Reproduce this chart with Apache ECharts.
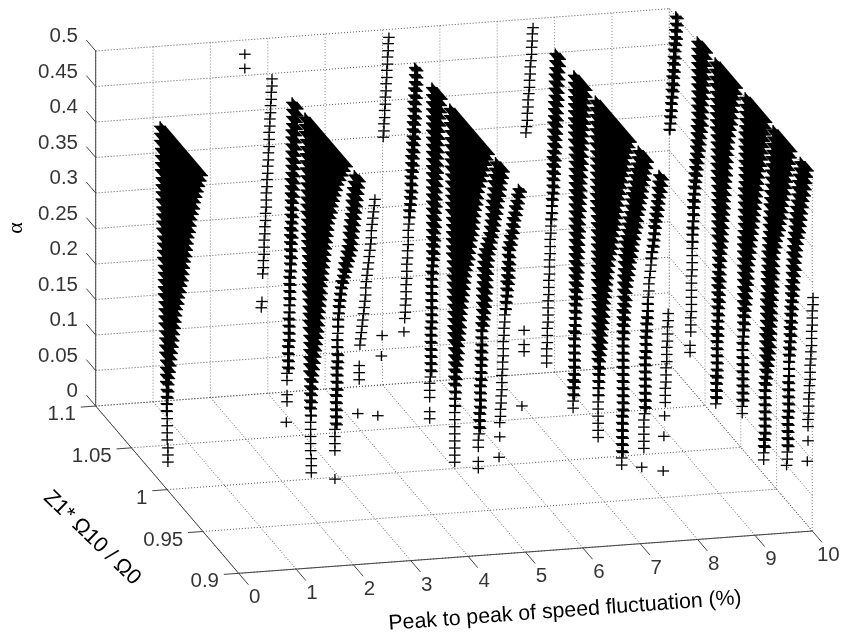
<!DOCTYPE html>
<html><head><meta charset="utf-8">
<style>html,body{margin:0;padding:0;background:#fff}#c{width:845px;height:637px}</style>
<script src="https://cdn.jsdelivr.net/npm/echarts@6/dist/echarts.min.js"></script>
</head><body><div id="c"></div>
<script>
// ---- tick values and labels ----
const xTicks = [0,1,2,3,4,5,6,7,8,9,10];
const xLabels = ['0','1','2','3','4','5','6','7','8','9','10'];
const zTicks = [0.9,0.95,1,1.05,1.1];
const zLabels = ['0.9','0.95','1','1.05','1.1'];
const aTicks = [0,0.05,0.1,0.15,0.2,0.25,0.3,0.35,0.4,0.45,0.5];
const aLabels = ['0','0.05','0.1','0.15','0.2','0.25','0.3','0.35','0.4','0.45','0.5'];
// alpha levels shared by the marker rows, from the top down
const alphaLevels = [0.50,0.49,0.48,0.47,0.46,0.45,0.44,0.43,0.42,0.41,0.40,0.39,0.38,0.37,0.36,0.35,0.34,0.33,0.32,0.31,0.30,0.29,0.28,0.27,0.26,0.25,0.24,0.23,0.22,0.21,0.20,0.19,0.18,0.17,0.16,0.15,0.14,0.13,0.12,0.11,0.10,0.09,0.08,0.07,0.06,0.05,0.04,0.03,0.02,0.01];

// ---- x = 0 ----
const a0L=[1.010,1.010,1.010,1.009,1.009,1.009,1.009,1.008,1.008,1.008,1.008,1.007,1.007,1.007,1.007,1.006,1.006,1.006,1.006,1.005,1.005,1.005,1.005,1.005,1.004,1.004,1.004,1.004,1.003,1.003,1.003,1.003,1.002,1.002,1.002,1.002,1.001,1.001,1.001,1.001,1.000,1.000,1.000,1.000,.999,.999,.999];
const a0R=[.951,.953,.955,.957,.959,.961,.962,.964,.966,.967,.968,.970,.971,.972,.973,.975,.976,.977,.978,.980,.981,.983,.984,.986,.987,.988,.989,.990,.991,.992,.993,.994,.995,.996,.997,.998,.998,.999,1.000,1.000,1.000,1.000,1.000,1.000];

// ---- x = 2.5 ----
const b0A=[.49,.47], b0Z=[1.092,1.092];
const b1Z=[1.054,1.054,1.055,1.055,1.056,1.056,1.057,1.057,1.058,1.058,1.058,1.059,1.059,1.060,1.060,1.061,1.061,1.062,1.062,1.062,1.063,1.063,1.064,1.064,1.065,1.065,1.065,1.066,1.066,1.067];
const b1lA=[.17,.16], b1lZ=[1.068,1.069];
const b2L=[1.026,1.026,1.026,1.026,1.027,1.027,1.027,1.027,1.027,1.027,1.027,1.028,1.028,1.028,1.028,1.028,1.028,1.028,1.029,1.029,1.029,1.029,1.029,1.029,1.029,1.030,1.030,1.030,1.030,1.030,1.030,1.031,1.031,1.031,1.031,1.032,1.032,1.032,1.032,1.033,1.033];
const b2R=[1.018,1.018,1.019,1.019,1.020,1.020,1.020,1.021,1.021,1.022,1.022,1.022,1.023,1.023,1.024,1.024,1.024,1.025,1.025,1.025,1.026,1.026,1.026,1.027,1.027,1.028,1.028,1.028,1.028,1.029,1.029,1.029,1.029,1.029,1.029,1.030,1.030,1.030,1.030];
const b2lA=[.08,.07,.04], b2lZ=[1.033,1.033,1.034];
const b3L=[1.008,1.008,1.008,1.007,1.007,1.007,1.007,1.007,1.006,1.006,1.006,1.006,1.006,1.006,1.005,1.005,1.005,1.005,1.005,1.004,1.004,1.004,1.004,1.004,1.004,1.003,1.003,1.003,1.003,1.003,1.002,1.002,1.002,1.002,1.002,1.002,1.001,1.001,1.001,1.001,1.001,1.000,1.000,1.000,1.000,1.000,1.000,.999,.999,.999];
const b3R=[.949,.952,.955,.958,.961,.963,.965,.967,.969,.970,.972,.974,.975,.976,.977,.978,.979,.980,.981,.982,.983,.984,.984,.985,.986,.987,.988,.988,.989,.990,.991,.992,.993,.994,.995,.996,.997,.997,.998,.998,.999,.999,1.000,1.000,1.000,1.000];
const b4L=[.939,.940,.941,.942,.943,.943,.944,.945,.946,.947,.947,.948,.950,.951,.953,.954,.955,.957,.958,.959,.960,.961,.961,.962,.962,.962,.963,.963,.963,.963,.964,.964,.964,.964,.965,.965,.965,.965,.965,.966,.966,.966,.966];
const b4R=[.931,.932,.933,.934,.935,.936,.937,.938,.939,.940,.941,.942,.944,.946,.948,.950,.952,.954,.956,.957,.958,.959,.960,.961,.961,.962,.962,.962,.961,.961,.962,.962,.962,.962,.963,.963,.963,.963,.963];
const b4lA=[.04], b4lZ=[.966];
const b5Z=[.910,.911,.912,.913,.914,.915,.915,.916,.917,.918,.919,.920,.921,.922,.923,.923,.924,.925,.926,.927,.928,.929,.930,.931];
const b5lA=[.24,.23,.22,.17], b5lZ=[.932,.932,.932,.934];
const b6A=[.32,.29,.20], b6Z=[.900,.901,.906];

// ---- x = 5 ----
const c0Z=[1.091,1.092,1.092,1.093,1.093,1.094,1.094,1.095,1.095,1.096,1.096,1.097,1.097,1.098,1.098,1.099];
const c1L=[1.055,1.055,1.055,1.056,1.056,1.057,1.057,1.057,1.058,1.058,1.058,1.059,1.059,1.060,1.060,1.060,1.061,1.061,1.061,1.062,1.062,1.063,1.063,1.063,1.064,1.064,1.064,1.065,1.065,1.066,1.066,1.066,1.067,1.067,1.067,1.068,1.068,1.069];
const c1R=[1.051,1.051,1.051,1.052,1.052,1.053,1.053,1.053,1.054,1.054,1.054,1.055,1.055,1.056,1.056,1.057,1.058,1.058,1.058,1.059,1.060,1.061,1.062,1.063,1.064];
const c1lA=[.11], c1lZ=[1.07];
const c2L=[1.031,1.031,1.031,1.031,1.031,1.031,1.031,1.031,1.031,1.031,1.031,1.031,1.031,1.031,1.031,1.031,1.031,1.031,1.031,1.031,1.031,1.031,1.031,1.031,1.031,1.031,1.032,1.032,1.032,1.032,1.032,1.032,1.032,1.032,1.033,1.033,1.033,1.033,1.033,1.033,1.033,1.033,1.034,1.034,1.034];
const c2R=[1.017,1.018,1.018,1.019,1.019,1.020,1.020,1.021,1.021,1.022,1.022,1.022,1.023,1.023,1.024,1.024,1.024,1.025,1.025,1.025,1.026,1.026,1.027,1.027,1.028,1.029,1.029,1.030,1.030,1.030,1.030,1.030,1.030,1.030,1.031,1.031,1.031,1.031,1.031,1.031,1.031];
const c2lA=[.04,.03], c2lZ=[1.034,1.034];
const c3L=[1.006,1.006,1.006,1.005,1.005,1.005,1.005,1.005,1.005,1.004,1.004,1.004,1.004,1.004,1.004,1.003,1.003,1.003,1.003,1.003,1.003,1.002,1.002,1.002,1.002,1.002,1.002,1.001,1.001,1.001,1.001,1.001,1.001,1.000,1.000,1.000,1.000,1.000,1.000,.999,.999,.999,.999,.999,.999,.999,.999,.999,.999,.999];
const c3R=[.951,.953,.955,.957,.959,.961,.963,.965,.966,.967,.969,.970,.971,.972,.973,.975,.976,.977,.978,.980,.982,.983,.984,.985,.986,.987,.988,.989,.990,.990,.991,.992,.993,.993,.994,.995,.996,.996,.997,.997,.998,.998,.999,.999];
const c4L=[.942,.943,.944,.945,.945,.946,.947,.948,.948,.949,.950,.951,.953,.955,.957,.959,.959,.960,.960,.960,.961,.961,.961,.961,.961,.962,.962,.962,.962,.963,.963,.963,.963,.963,.964,.964,.964,.964,.965,.965,.965,.965,.966,.966];
const c4R=[.930,.931,.933,.934,.935,.937,.938,.939,.941,.942,.944,.945,.947,.948,.950,.951,.952,.952,.953,.953,.954,.954,.955,.956,.957,.958,.960,.960,.960,.960,.960,.961,.961,.961,.962,.962,.962,.962,.963,.963,.963];
const c4lA=[.05,.04], c4lZ=[.966,.966];
const c5L=[.910,.912,.913,.915,.916,.918,.919,.920,.922,.923,.925,.925,.925,.926,.926,.927,.927,.927,.928,.928,.929,.929,.930,.930,.931,.931,.931,.932,.932,.933,.933,.933,.934,.934,.935,.935,.936];
const c5R=[.906,.908,.909,.911,.912,.914,.915,.916,.918,.919,.921,.921,.921,.922,.922,.923,.924,.925,.926,.927,.929];
const c5lA=[.12,.09], c5lZ=[.936,.937];
const c6A=[.31,.29,.28,.20], c6Z=[.902,.902,.902,.905];

// ---- x = 7.5 ----
const d0Z=[1.090,1.091,1.091,1.092,1.092,1.093,1.094,1.094,1.095,1.095,1.096,1.097,1.097,1.098,1.098,1.099,1.100];
const d1L=[1.059,1.059,1.059,1.060,1.060,1.060,1.060,1.061,1.061,1.061,1.062,1.062,1.062,1.062,1.062,1.063,1.063,1.063,1.063,1.063,1.063,1.064,1.064,1.064,1.065,1.065,1.065,1.066,1.066,1.066,1.067,1.067,1.067,1.068,1.068,1.068,1.069,1.069,1.069,1.069,1.070,1.070,1.070,1.071];
const d1R=[1.052,1.052,1.053,1.053,1.054,1.054,1.054,1.055,1.055,1.055,1.056,1.056,1.057,1.057,1.058,1.058,1.059,1.059,1.060,1.060,1.061,1.062,1.063,1.063,1.064];
const d1lA=[.06,.05], d1lZ=[1.071,1.071];
const d2L=[1.033,1.033,1.033,1.033,1.033,1.033,1.033,1.033,1.033,1.033,1.032,1.032,1.032,1.032,1.032,1.032,1.032,1.032,1.032,1.032,1.032,1.032,1.032,1.032,1.032,1.032,1.032,1.032,1.032,1.032,1.032,1.032,1.032,1.032,1.032,1.032,1.033,1.033,1.033,1.033,1.033,1.033,1.033,1.034,1.034,1.034,1.034,1.034];
const d2R=[1.015,1.015,1.016,1.016,1.017,1.017,1.018,1.019,1.019,1.020,1.020,1.020,1.021,1.021,1.022,1.022,1.022,1.023,1.023,1.024,1.024,1.024,1.025,1.025,1.025,1.026,1.026,1.026,1.027,1.027,1.028,1.028,1.029,1.029,1.030,1.030,1.030,1.031,1.031,1.031,1.031,1.031,1.031,1.031,1.032,1.032];
const d3L=[1.003,1.003,1.003,1.003,1.003,1.003,1.003,1.002,1.002,1.002,1.002,1.002,1.002,1.002,1.002,1.002,1.001,1.001,1.001,1.001,1.001,1.001,1.001,1.001,1.001,1.001,1.000,1.000,1.000,1.000,1.000,1.000,1.000,1.000,1.000,1.000,1.000,.999,.999,.999,.999,.999,.999,.999,.999,.999,.999,.999];
const d3R=[.953,.955,.957,.959,.960,.961,.963,.964,.966,.967,.969,.970,.971,.972,.973,.975,.976,.977,.978,.980,.982,.983,.984,.985,.986,.987,.988,.989,.990,.990,.991,.992,.993,.993,.994,.995,.996,.996,.997,.997,.998,.998,.999,.999];
const d4L=[.943,.944,.945,.947,.948,.949,.950,.952,.953,.954,.955,.957,.958,.959,.960,.962,.962,.963,.963,.963,.964,.964,.964,.964,.964,.965,.965,.965,.965,.965,.965,.965,.965,.965,.965,.965,.965,.965,.965,.965,.966,.966,.966,.966,.966,.966,.966,.966];
const d4R=[.929,.930,.932,.933,.935,.936,.937,.939,.940,.942,.943,.944,.946,.947,.949,.950,.951,.953,.954,.955,.957,.958,.959,.959,.960,.961,.961,.962,.962,.963,.963,.963,.963,.963,.963,.963,.963,.963,.963,.963,.964,.964,.964,.964,.964,.964];
const d5L=[.914,.915,.916,.916,.917,.918,.919,.920,.921,.921,.922,.923,.924,.925,.925,.926,.927,.928,.928,.929,.930,.930,.931,.932,.932,.933,.933,.933,.934,.934,.934,.934,.934,.934,.934,.934,.934,.935,.935,.935,.935,.935];
const d5R=[.908,.909,.910,.912,.913,.914,.915,.917,.918,.919,.920,.921,.923,.924,.925,.926,.927,.928,.928,.929,.929,.929,.929,.930,.930,.931,.931,.931,.932,.932,.932,.932,.932,.932,.932,.932];
const d5lA=[.06], d5lZ=[.938];
const d6Z=[.901,.901,.902,.902,.902,.903,.903,.903,.904,.904,.904,.905,.905,.905];
const d6lA=[.17,.14,.09], d6lZ=[.906,.907,.908];

// ---- x = 10 ----
const e0L=[1.091,1.091,1.092,1.092,1.093,1.094,1.094,1.095,1.095,1.096,1.096,1.097,1.097,1.098,1.098,1.099,1.099,1.100];
const e0R=[1.088,1.088,1.089,1.089,1.090,1.091,1.091,1.092,1.092,1.093,1.093,1.094,1.095,1.096,1.096,1.097,1.098,1.099];
const e1L=[1.061,1.061,1.061,1.061,1.061,1.061,1.061,1.061,1.061,1.061,1.061,1.061,1.062,1.062,1.062,1.063,1.063,1.064,1.064,1.065,1.065,1.066,1.066,1.067,1.067,1.067,1.067,1.068,1.068,1.068,1.068,1.068,1.068,1.068,1.069,1.069,1.069,1.069,1.069,1.069,1.070,1.070,1.070];
const e1R=[1.047,1.048,1.048,1.049,1.049,1.050,1.050,1.051,1.052,1.052,1.053,1.053,1.054,1.055,1.056,1.057,1.058,1.059,1.060,1.061,1.062,1.063,1.064,1.064,1.065,1.065,1.066,1.066,1.067,1.067,1.068];
const e1lA=[.06,.05], e1lZ=[1.071,1.071];
const e2L=[1.036,1.036,1.036,1.036,1.035,1.035,1.035,1.035,1.035,1.035,1.034,1.034,1.034,1.034,1.034,1.034,1.034,1.033,1.033,1.033,1.033,1.033,1.033,1.033,1.033,1.032,1.032,1.032,1.032,1.032,1.033,1.033,1.033,1.033,1.033,1.033,1.033,1.034,1.034,1.034,1.034,1.034,1.034,1.034,1.035,1.035,1.035,1.035,1.035];
const e2R=[1.005,1.006,1.008,1.009,1.010,1.011,1.012,1.014,1.015,1.016,1.017,1.018,1.018,1.019,1.019,1.020,1.021,1.021,1.022,1.022,1.023,1.024,1.024,1.025,1.025,1.026,1.027,1.027,1.028,1.028,1.028,1.029,1.029,1.029,1.030,1.030,1.031,1.031,1.031,1.032,1.032,1.032,1.032,1.032,1.032,1.033,1.033,1.033];
const e3L=[.994,.994,.994,.994,.994,.995,.995,.995,.995,.995,.995,.995,.995,.996,.996,.996,.996,.996,.996,.996,.997,.997,.997,.997,.997,.997,.997,.997,.997,.997,.997,.997,.997,.997,.997,.998,.998,.998,.998,.998,.998,.998,.998,.998,.998,.998];
const e3R=[.964,.965,.966,.967,.968,.969,.970,.971,.973,.974,.975,.976,.977,.978,.979,.980,.981,.982,.983,.984,.985,.986,.987,.988,.989,.989,.990,.991,.991,.992,.993,.994,.994,.995,.996,.996,.997,.996,.996,.996,.996,.996,.996,.996];
const e4L=[.955,.955,.956,.956,.957,.957,.958,.958,.958,.959,.959,.960,.960,.961,.961,.961,.962,.962,.963,.963,.963,.964,.964,.964,.964,.965,.965,.965,.965,.965,.966,.966,.966,.966,.966,.966,.966,.967,.967,.967,.967,.967,.967,.967,.967,.968,.968,.968,.968];
const e4R=[.929,.930,.931,.932,.934,.935,.936,.937,.939,.940,.941,.942,.944,.945,.947,.949,.950,.952,.953,.953,.953,.954,.954,.955,.955,.956,.956,.956,.957,.957,.958,.958,.959,.960,.961,.962,.963,.964,.965,.965,.965,.965,.965,.965,.965,.966,.966];
const e5L=[.917,.918,.919,.920,.921,.921,.922,.923,.924,.925,.925,.926,.927,.927,.928,.928,.929,.929,.929,.930,.930,.930,.931,.931,.931,.932,.932,.932,.933,.933,.933,.933,.933,.934,.934,.934,.934,.934,.935,.935,.935,.935,.935,.935,.935,.936];
const e5R=[.906,.907,.908,.909,.910,.912,.913,.914,.915,.916,.917,.919,.920,.921,.922,.923,.923,.924,.925,.925,.926,.927,.927,.928,.928,.929,.929,.930,.930,.931,.932,.932,.932,.932,.932,.932,.932,.932,.933,.933,.933,.933,.933];
const e6Z=[.899,.899,.900,.900,.900,.901,.901,.901,.902,.902,.903,.903,.903,.904,.904,.905,.905,.905,.906,.906];
const e6lA=[.12,.09], e6lZ=[.906,.907];

// ---- table built from the arrays: [x, alphas, z at left end, z at right end] ----
const head = n => alphaLevels.slice(0, n);
const from = (a, n) => alphaLevels.slice(alphaLevels.indexOf(a), alphaLevels.indexOf(a) + n);
const strands = [
 [0, head(a0L.length), a0L, a0R],
 [2.5, b0A, b0Z], [2.5, head(b1Z.length), b1Z], [2.5, b1lA, b1lZ],
 [2.5, head(b2L.length), b2L, b2R], [2.5, b2lA, b2lZ],
 [2.5, head(b3L.length), b3L, b3R],
 [2.5, head(b4L.length), b4L, b4R], [2.5, b4lA, b4lZ],
 [2.5, head(b5Z.length), b5Z], [2.5, b5lA, b5lZ], [2.5, b6A, b6Z],
 [5, head(c0Z.length), c0Z],
 [5, head(c1L.length), c1L, c1R], [5, c1lA, c1lZ],
 [5, head(c2L.length), c2L, c2R], [5, c2lA, c2lZ],
 [5, head(c3L.length), c3L, c3R],
 [5, head(c4L.length), c4L, c4R], [5, c4lA, c4lZ],
 [5, head(c5L.length), c5L, c5R], [5, c5lA, c5lZ], [5, c6A, c6Z],
 [7.5, head(d0Z.length), d0Z],
 [7.5, head(d1L.length), d1L, d1R], [7.5, d1lA, d1lZ],
 [7.5, head(d2L.length), d2L, d2R],
 [7.5, head(d3L.length), d3L, d3R],
 [7.5, head(d4L.length), d4L, d4R],
 [7.5, head(d5L.length), d5L, d5R], [7.5, d5lA, d5lZ],
 [7.5, from(.32, d6Z.length), d6Z], [7.5, d6lA, d6lZ],
 [10, head(e0L.length), e0L, e0R],
 [10, head(e1L.length), e1L, e1R], [10, e1lA, e1lZ],
 [10, head(e2L.length), e2L, e2R],
 [10, head(e3L.length), e3L, e3R],
 [10, head(e4L.length), e4L, e4R],
 [10, head(e5L.length), e5L, e5R],
 [10, from(.33, e6Z.length), e6Z], [10, e6lA, e6lZ]
];
const rows = [];
strands.forEach(([x, as, l, r]) => as.forEach((a, i) => {
  rows.push([x, a, l[i], r && r[i] !== undefined ? r[i] : l[i]]);
}));

// ---- orthographic view of the 3-D box onto a hidden plane axis pair ----
function project(x, z, a) {
  const t = (1.1 - z) / 0.2;
  return [95.7 + 57.36 * x + 143 * t, 406 - 4.23 * x + 167.3 * t - 710 * a];
}
const ARM_H = 5.8, ARM_V = 5;
const MARK_W = 1.3;

function segSeries(name, segs, stroke, dash, z) {
  return {
    name, type: 'custom', silent: true, animation: false, z, clip: false,
    data: segs,
    renderItem(p, api) {
      const s = [0,1,2,3,4,5].map(i => api.value(i));
      const a = api.coord(project(s[0], s[1], s[2]));
      const b = api.coord(project(s[3], s[4], s[5]));
      return { type: 'line', shape: { x1: a[0], y1: a[1], x2: b[0], y2: b[1] },
               style: { stroke, lineWidth: 1, lineDash: dash, fill: null } };
    }
  };
}
const xMin = 0, xMax = 10, zMin = 0.9, zMax = 1.1, aMin = 0, aMax = 0.5;
const gridDark = [], gridLight = [];
xTicks.forEach(x => {
  gridDark.push([x, zMin, aMin, x, zMax, aMin]);
  gridLight.push([x, zMax, aMin, x, zMax, aMax]);
});
zTicks.forEach(z => {
  gridDark.push([xMin, z, aMin, xMax, z, aMin]);
  gridLight.push([xMax, z, aMin, xMax, z, aMax]);
});
aTicks.forEach(a => {
  gridDark.push([xMin, zMax, a, xMax, zMax, a]);
  gridDark.push([xMax, zMax, a, xMax, zMin, a]);
});
const axisSegs = [
  [xMin, zMax, aMin, xMin, zMax, aMax],
  [xMin, zMax, aMin, xMin, zMin, aMin],
  [xMin, zMin, aMin, xMax, zMin, aMin]
];
xTicks.forEach(x => axisSegs.push([x, zMin, aMin, x, zMin - 0.0136, aMin]));
zTicks.forEach(z => axisSegs.push([xMin, z, aMin, xMin - 0.26, z, aMin]));
aTicks.forEach(a => axisSegs.push([xMin, zMax, a, xMin, zMax + 0.013, a]));

function labelSeries(points, texts, align, offset) {
  return {
    type: 'scatter', silent: true, animation: false, symbolSize: 0, z: 6, clip: false,
    data: points.map((p, i) => ({ value: p, text: texts[i] })),
    label: {
      show: true, position: [0, 0], align, verticalAlign: 'middle', offset,
      formatter: q => q.data.text, color: '#000',
      fontFamily: '"Liberation Sans", Arial, sans-serif', fontSize: 20.5
    }
  };
}

const chart = echarts.init(document.getElementById('c'), null, { renderer: 'canvas' });
chart.setOption({
  animation: false,
  backgroundColor: '#fff',
  grid: { left: 0, right: 0, top: 0, bottom: 0 },
  xAxis: { type: 'value', min: 0, max: 845, show: false },
  yAxis: { type: 'value', min: 0, max: 637, inverse: true, show: false },
  series: [
    segSeries('gridLight', gridLight, '#8a8a8a', [1, 2], 1),
    segSeries('gridDark', gridDark, '#555', [1, 2], 1),
    segSeries('axes', axisSegs, '#444', null, 2),
    {
      name: 'points', type: 'custom', silent: true, animation: false, z: 3, clip: false,
      progressive: 0, data: rows,
      renderItem(p, api) {
        const x = api.value(0), a = api.value(1), zl = api.value(2), zr = api.value(3);
        const P = api.coord(project(x, zl, a));
        const Q = api.coord(project(x, zr, a));
        const kids = [];
        const arm = (c) => {
          kids.push({ type: 'line', shape: { x1: c[0] - ARM_H, y1: c[1], x2: c[0] + ARM_H, y2: c[1] }, style: { stroke: '#000', lineWidth: MARK_W, fill: null } });
          kids.push({ type: 'line', shape: { x1: c[0], y1: c[1] - ARM_V, x2: c[0], y2: c[1] + ARM_V }, style: { stroke: '#000', lineWidth: MARK_W, fill: null } });
        };
        arm(P);
        if (zl !== zr) {
          arm(Q);
          kids.push({ type: 'polygon', shape: { points: [[P[0]-ARM_H,P[1]],[P[0]+ARM_H,P[1]],[Q[0]+ARM_H,Q[1]],[Q[0]-ARM_H,Q[1]]] }, style: { fill: '#000' } });
          kids.push({ type: 'polygon', shape: { points: [[P[0],P[1]-ARM_V],[P[0],P[1]+ARM_V],[Q[0],Q[1]+ARM_V],[Q[0],Q[1]-ARM_V]] }, style: { fill: '#000' } });
        }
        return { type: 'group', children: kids };
      }
    },
    labelSeries(aTicks.map(a => project(xMin, zMax, a)), aLabels, 'right', [-17.7, -14.5]),
    labelSeries(zTicks.map(z => project(xMin, z, aMin)), zLabels, 'right', [-19.7, 8.5]),
    labelSeries(xTicks.map(x => project(x, zMin, aMin)), xLabels, 'center', [16, 24.5])
  ],
  graphic: [
    { type: 'text', x: 565, y: 611, rotation: 4.2 * Math.PI / 180, z: 10,
      style: { text: 'Peak to peak of speed fluctuation (%)', align: 'center', verticalAlign: 'middle', fill: '#000', font: '21.3px "Liberation Sans", Arial, sans-serif' } },
    { type: 'text', x: 92, y: 538, rotation: -44 * Math.PI / 180, z: 10,
      style: { text: 'Z1* Ω10 / Ω0', align: 'center', verticalAlign: 'middle', fill: '#000', font: '21.5px "Liberation Sans", Arial, sans-serif' } },
    { type: 'text', x: 16, y: 228, rotation: Math.PI / 2, z: 10,
      style: { text: 'α', align: 'center', verticalAlign: 'middle', fill: '#000', font: '22px "Liberation Serif", serif' } }
  ]
});
</script></body></html>
